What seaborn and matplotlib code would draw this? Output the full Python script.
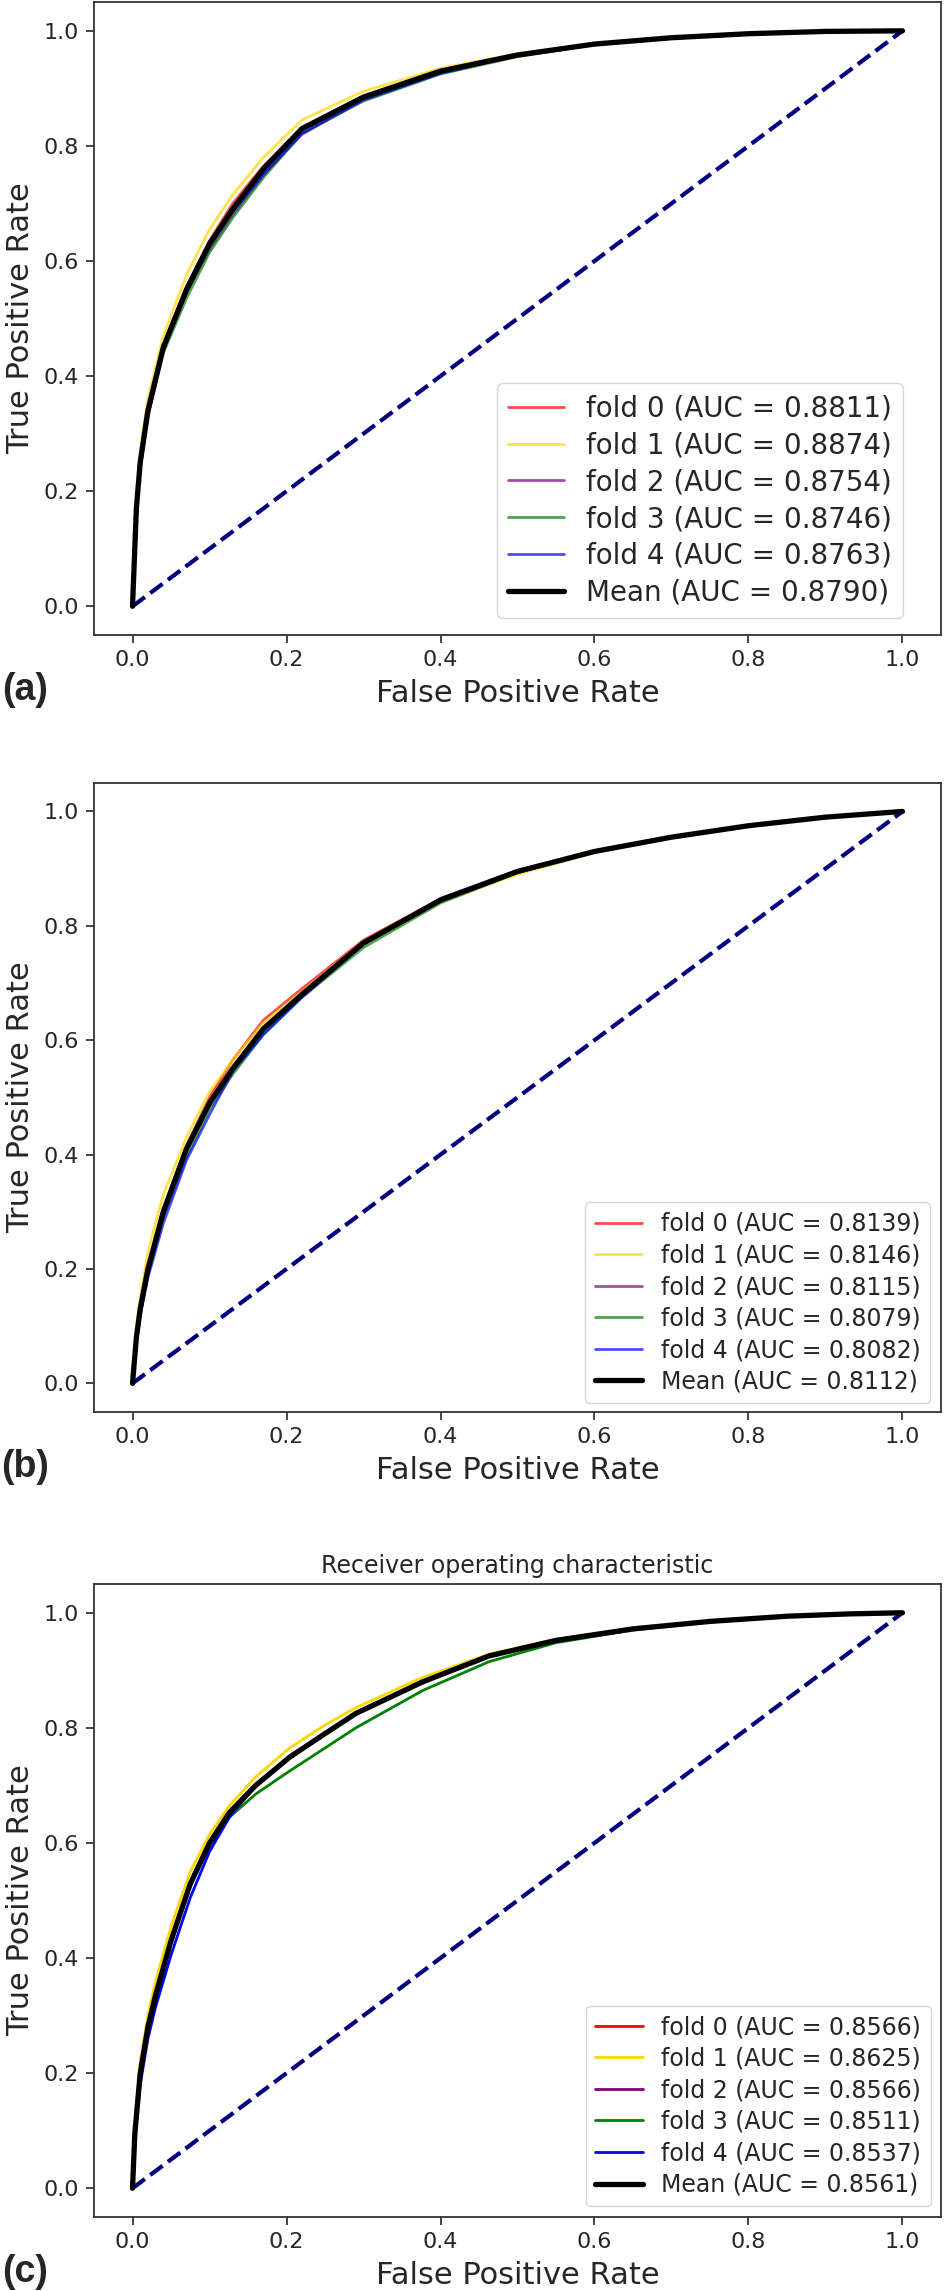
import matplotlib
matplotlib.use('Agg')
import matplotlib.pyplot as plt
import seaborn as sns

# ROC data
fold_names = ['fold 0', 'fold 1', 'fold 2', 'fold 3', 'fold 4']
fold_colors = ['red', 'gold', 'purple', 'green', 'blue']

fpr_ab = [0, .005, .01, .02, .04, .07, .1, .13, .17, .22, .3, .4, .5, .6, .7, .8, .9, 1.0]

# (a)
auc_a = [0.8811, 0.8874, 0.8754, 0.8746, 0.8763]
auc_a_mean = 0.8790
tpr_a = [
    [0, .17, .25, .34, .455, .555, .635, .70, .765, .832, .886, .932, .959, .977, .988, .995, .999, 1],
    [0, .19, .27, .36, .47, .575, .655, .715, .78, .845, .895, .935, .96, .978, .989, .995, .999, 1],
    [0, .16, .24, .33, .445, .545, .62, .68, .75, .82, .88, .927, .956, .976, .987, .994, .999, 1],
    [0, .16, .24, .33, .44, .535, .615, .675, .745, .822, .878, .925, .955, .976, .987, .994, .999, 1],
    [0, .165, .245, .335, .445, .545, .625, .685, .75, .822, .88, .926, .957, .976, .988, .995, .999, 1],
]
tpr_a_mean = [0, .17, .25, .34, .45, .55, .63, .69, .76, .83, .885, .93, .958, .977, .988, .995, .999, 1]

# (b)
auc_b = [0.8139, 0.8146, 0.8115, 0.8079, 0.8082]
auc_b_mean = 0.8112
tpr_b = [
    [0, .08, .13, .2, .305, .415, .5, .565, .635, .69, .775, .847, .896, .93, .955, .975, .99, 1],
    [0, .1, .15, .23, .33, .43, .51, .565, .63, .685, .772, .842, .89, .928, .954, .974, .99, 1],
    [0, .08, .13, .2, .3, .41, .49, .55, .62, .68, .77, .845, .895, .93, .955, .975, .99, 1],
    [0, .07, .12, .19, .29, .395, .48, .54, .61, .675, .762, .84, .893, .929, .955, .975, .99, 1],
    [0, .07, .12, .185, .28, .39, .47, .545, .61, .675, .768, .848, .897, .93, .955, .975, .99, 1],
]
tpr_b_mean = [0, .08, .13, .2, .3, .41, .49, .55, .62, .68, .77, .845, .895, .93, .955, .975, .99, 1]

# (c)
fpr_c = [0, .003, .01, .02, .03, .05, .075, .1, .126, .16, .204, .25, .29, .377, .463, .55, .65, .75, .85, .93, 1.0]
auc_c = [0.8566, 0.8625, 0.8566, 0.8511, 0.8537]
auc_c_mean = 0.8561
tpr_c = [
    [0, .1, .2, .285, .34, .435, .53, .6, .655, .702, .75, .79, .826, .88, .925, .952, .972, .985, .994, .998, 1],
    [0, .11, .22, .3, .36, .455, .55, .615, .665, .715, .765, .805, .835, .888, .928, .954, .973, .986, .994, .998, 1],
    [0, .09, .19, .275, .335, .43, .53, .6, .655, .70, .75, .79, .826, .882, .926, .953, .972, .985, .994, .998, 1],
    [0, .095, .2, .28, .336, .43, .525, .595, .645, .685, .725, .765, .80, .865, .915, .948, .97, .984, .993, .998, 1],
    [0, .085, .18, .26, .315, .405, .505, .585, .645, .70, .75, .79, .825, .88, .924, .952, .972, .985, .994, .998, 1],
]
tpr_c_mean = [0, .095, .2, .28, .336, .43, .529, .6, .653, .70, .749, .79, .825, .88, .925, .952, .972, .985, .994, .998, 1]

chance = [0, 1]

sns.set_theme(style='ticks')
plt.rcParams['font.family'] = ['DejaVu Sans']

fig = plt.figure(figsize=(9.44, 22.91), dpi=100)

panels = [
    # fpr, tprs, aucs, mean tpr, mean auc, alpha, legend size, axes rect, legend anchor, letter
    (fpr_ab, tpr_a, auc_a, tpr_a_mean, auc_a_mean, 0.7, 20, [0.0996, 0.7228, 0.8972, 0.2763], (0.955, 0.027), '(a)', 690),
    (fpr_ab, tpr_b, auc_b, tpr_b_mean, auc_b_mean, 0.7, 17, [0.0996, 0.3837, 0.8972, 0.2746], (0.987, 0.014), '(b)', 1467),
    (fpr_c, tpr_c, auc_c, tpr_c_mean, auc_c_mean, 1.0, 17, [0.0996, 0.0323, 0.8972, 0.2763], (0.988, 0.017), '(c)', 2272),
]

for i, (fpr, tprs, aucs, tmean, amean, alpha, lsize, rect, anchor, letter, ly) in enumerate(panels):
    ax = fig.add_axes(rect)
    for name, col, tpr, auc in zip(fold_names, fold_colors, tprs, aucs):
        sns.lineplot(x=fpr, y=tpr, ax=ax, color=col, lw=2, alpha=alpha,
                     estimator=None, label=f'{name} (AUC = {auc:.4f})')
    sns.lineplot(x=chance, y=chance, ax=ax, color='navy', lw=3, linestyle='--',
                 estimator=None)
    sns.lineplot(x=fpr, y=tmean, ax=ax, color='black', lw=3.8,
                 estimator=None, label=f'Mean (AUC = {amean:.4f})')
    ax.set_xlim(-0.05, 1.05)
    ax.set_ylim(-0.05, 1.05)
    ax.set_xticks([0, 0.2, 0.4, 0.6, 0.8, 1.0])
    ax.set_yticks([0, 0.2, 0.4, 0.6, 0.8, 1.0])
    ax.tick_params(labelsize=16, length=6, width=1.2, pad=5)
    ax.set_xlabel('False Positive Rate', fontsize=22, labelpad=6)
    ax.set_ylabel('True Positive Rate', fontsize=22, labelpad=6)
    for s in ax.spines.values():
        s.set_visible(True)
        s.set_color('#333333')
        s.set_linewidth(1.3)
    if i == 2:
        ax.set_title('Receiver operating characteristic', fontsize=17, pad=8)
    ax.legend(loc='lower right', bbox_to_anchor=anchor, borderaxespad=0,
              fontsize=lsize, labelspacing=0.32, frameon=True, fancybox=True,
              edgecolor='0.8', framealpha=0.8)
    fig.text(25 / 944, 1 - ly / 2291, letter, fontsize=27, fontweight='bold',
             family=['Liberation Sans', 'DejaVu Sans'], ha='center', va='center')

fig.savefig('out.png', dpi=100)
